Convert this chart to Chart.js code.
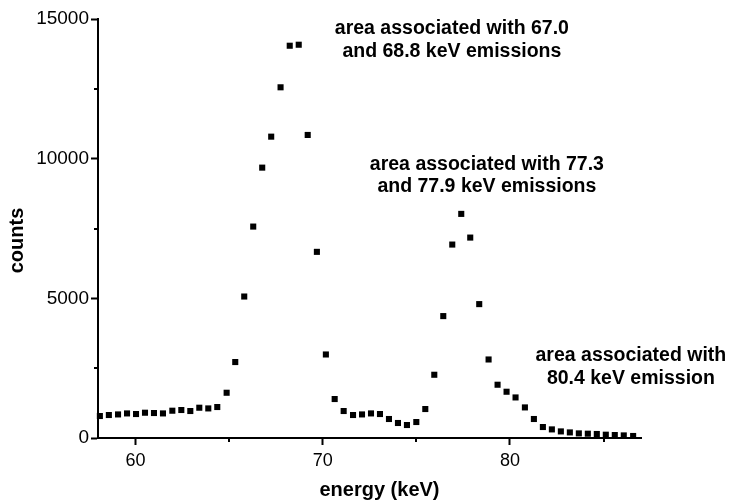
<!DOCTYPE html>
<html>
<head>
<meta charset="utf-8">
<script src="https://cdn.jsdelivr.net/npm/chart.js@4.4.1/dist/chart.umd.min.js"></script>
<style>
  html, body { margin: 0; padding: 0; background: #fff; }
  #wrap { width: 729px; height: 501px; }
</style>
</head>
<body>
<div id="wrap"><canvas id="spectrum"></canvas></div>
<script>
// spectrum channels (keV) and counts
const energy = [58.10, 58.58, 59.07, 59.55, 60.03, 60.51, 60.99, 61.47, 61.97, 62.45,
  62.93, 63.41, 63.89, 64.37, 64.87, 65.33, 65.81, 66.29, 66.77, 67.25,
  67.75, 68.24, 68.72, 69.20, 69.69, 70.17, 70.64, 71.12, 71.62, 72.10,
  72.58, 73.06, 73.54, 74.02, 74.50, 75.00, 75.48, 75.96, 76.44, 76.92,
  77.40, 77.88, 78.36, 78.86, 79.34, 79.82, 80.30, 80.80, 81.28, 81.76,
  82.24, 82.72, 83.20, 83.68, 84.16, 84.64, 85.12, 85.60, 86.08, 86.58];
const counts = [787, 823, 844, 880, 858, 905, 894, 880, 977, 1002,
  966, 1084, 1059, 1109, 1620, 2719, 5065, 7569, 9679, 10788,
  12555, 14043, 14079, 10849, 6664, 2990, 1395, 966, 823, 844,
  880, 858, 680, 537, 465, 572, 1037, 2264, 4364, 6925,
  8023, 7175, 4793, 2811, 1907, 1656, 1452, 1095, 680, 393,
  308, 236, 200, 165, 154, 143, 118, 107, 93, 72];

const xTicks = [60, 65, 70, 75, 80, 85];
const xLabeled = [60, 70, 80];
const yTicks = [0, 2500, 5000, 7500, 10000, 12500, 15000];
const yLabeled = [0, 5000, 10000, 15000];

// annotation text, anchored in data units (centre x, first baseline y)
const notes = [
  { x: 76.90, y: 14451, lines: ['area associated with 67.0', 'and 68.8 keV emissions'] },
  { x: 78.77, y: 9597, lines: ['area associated with 77.3', 'and 77.9 keV emissions'] },
  { x: 86.46, y: 2740, lines: ['area associated with', '80.4 keV emission'] }
];

const FONT = '"Liberation Sans", Arial, Helvetica, sans-serif';

const points = energy.map((e, i) => ({ x: e, y: counts[i] }));

// short unlabeled ticks + axis titles + annotations
const extras = {
  id: 'extras',
  afterDraw(chart) {
    const { ctx, chartArea: a, scales: { x, y } } = chart;
    ctx.save();
    ctx.strokeStyle = '#000';
    ctx.lineWidth = 2;
    ctx.beginPath();
    xTicks.filter(v => !xLabeled.includes(v)).forEach(v => {
      const px = Math.round(x.getPixelForValue(v));
      ctx.moveTo(px, a.bottom); ctx.lineTo(px, a.bottom + 4);
    });
    yTicks.filter(v => !yLabeled.includes(v)).forEach(v => {
      const py = Math.round(y.getPixelForValue(v));
      ctx.moveTo(a.left, py); ctx.lineTo(a.left - 4, py);
    });
    ctx.stroke();

    ctx.fillStyle = '#000';
    ctx.font = 'bold 20px ' + FONT;
    ctx.textAlign = 'center';
    ctx.textBaseline = 'alphabetic';
    ctx.fillText('energy (keV)', (a.left + a.right) / 2 + 10, 495.5);
    ctx.save();
    ctx.translate(22.5, (a.top + a.bottom) / 2 + 12);
    ctx.rotate(-Math.PI / 2);
    ctx.fillText('counts', 0, 0);
    ctx.restore();

    ctx.font = 'bold 19.5px ' + FONT;
    notes.forEach(n => {
      const px = x.getPixelForValue(n.x);
      const py = y.getPixelForValue(n.y);
      n.lines.forEach((t, i) => ctx.fillText(t, px, py + i * 22.5));
    });
    ctx.restore();
  }
};

new Chart(document.getElementById('spectrum'), {
  type: 'scatter',
  data: {
    datasets: [{
      data: points,
      pointStyle: 'rect',
      pointRadius: 4.3,
      pointBorderWidth: 0,
      pointBackgroundColor: '#000',
      showLine: false,
      clip: false
    }]
  },
  options: {
    responsive: true,
    maintainAspectRatio: false,
    animation: false,
    layout: { padding: { top: 19, right: 88, left: 0, bottom: 0 } },
    plugins: { legend: { display: false }, tooltip: { enabled: false } },
    scales: {
      x: {
        type: 'linear',
        min: 58,
        max: 87,
        afterBuildTicks: s => { s.ticks = xTicks.map(v => ({ value: v })); },
        afterFit: s => { s.height = 63; },
        ticks: {
          color: '#000',
          font: { family: FONT, size: 18 },
          padding: 5,
          maxRotation: 0,
          autoSkip: false,
          callback: v => xLabeled.includes(v) ? String(v) : ''
        },
        grid: {
          drawOnChartArea: false,
          tickLength: 7,
          tickWidth: 2,
          tickColor: c => xLabeled.includes(c.tick && c.tick.value) ? '#000' : 'rgba(0,0,0,0)'
        },
        border: { display: true, color: '#000', width: 2 }
      },
      y: {
        type: 'linear',
        min: 0,
        max: 15000,
        afterBuildTicks: s => { s.ticks = yTicks.map(v => ({ value: v })); },
        afterFit: s => { s.width = 98; },
        ticks: {
          color: '#000',
          font: { family: FONT, size: 19 },
          padding: 2,
          autoSkip: false,
          callback: v => yLabeled.includes(v) ? String(v) : ''
        },
        grid: {
          drawOnChartArea: false,
          tickLength: 7,
          tickWidth: 2,
          tickColor: c => yLabeled.includes(c.tick && c.tick.value) ? '#000' : 'rgba(0,0,0,0)'
        },
        border: { display: true, color: '#000', width: 2 }
      }
    }
  },
  plugins: [extras]
});
</script>
</body>
</html>
